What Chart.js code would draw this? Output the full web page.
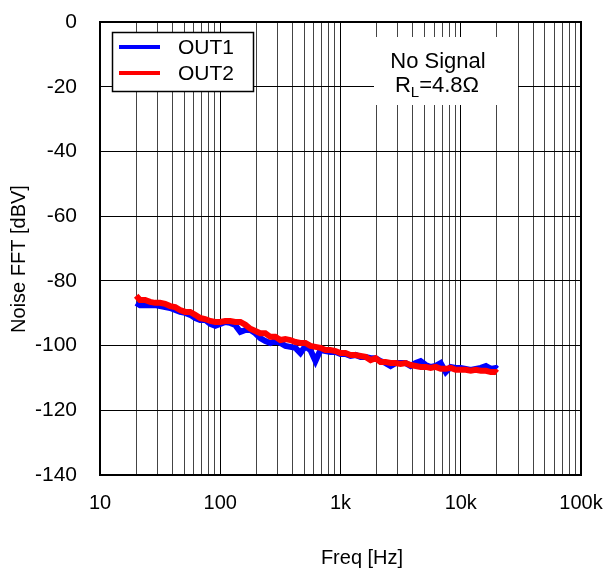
<!DOCTYPE html>
<html>
<head>
<meta charset="utf-8">
<script src="https://cdn.jsdelivr.net/npm/chart.js@4.4.1/dist/chart.umd.min.js"></script>
<style>
	html, body { margin: 0; padding: 0; background: #fff; }
	#wrap { width: 607px; height: 572px; position: relative; }
</style>
</head>
<body>
<div id="wrap"><canvas id="myChart" width="607" height="572"></canvas></div>
<script>
// frequency points (Hz)
const freqs = [20, 21.5, 23.7, 26.1, 28.7, 31.6, 34.8, 38.3, 42.2, 46.4, 51.1, 56.2, 61.9, 68.1, 75, 82.5, 90.9,
	100, 110, 121, 133, 147, 162, 178, 196, 215, 237, 261, 287, 316, 348, 383, 422, 464, 511, 562, 619, 681, 750, 825, 909,
	1000, 1100, 1210, 1330, 1470, 1620, 1780, 1960, 2150, 2370, 2610, 2870, 3160, 3480, 3830, 4220, 4640, 5110, 5620, 6190, 6810, 7500, 8250, 9090,
	10000, 11000, 12100, 13300, 14700, 16200, 17800, 19600, 20000];

const out1 = [-86.8, -87.5, -87.5, -87.5, -87.5, -87.8, -88.1, -88.4, -89.0, -89.6, -89.9, -90.5, -91.5, -92.1, -92.1, -93.3, -93.9,
	-93.3, -92.7, -93.0, -93.6, -95.8, -95.2, -95.2, -96.2, -97.7, -98.6, -99.2, -98.6, -99.2, -100.1, -100.4, -100.7, -102.3, -100.1, -101.4, -104.8, -101.4, -101.7, -102.0, -102.0,
	-102.6, -102.6, -103.2, -102.9, -103.5, -103.5, -103.9, -103.9, -104.8, -105.4, -106.3, -105.4, -105.4, -105.4, -106.3, -105.4, -104.8, -106.0, -106.6, -106.3, -105.4, -108.2, -106.6, -106.9,
	-106.9, -107.2, -107.5, -107.2, -106.9, -106.3, -107.2, -106.9, -107.2];

const out2 = [-84.6, -85.9, -85.9, -86.5, -86.8, -86.8, -87.1, -87.8, -88.1, -89.0, -89.6, -89.6, -90.5, -91.5, -91.8, -92.4, -92.7,
	-92.7, -92.4, -92.4, -92.7, -92.7, -93.6, -94.8, -95.5, -96.2, -96.2, -97.3, -97.3, -98.3, -98.0, -98.3, -98.9, -99.2, -99.2, -100.1, -100.4, -100.7, -101.4, -101.4, -101.7,
	-102.3, -102.3, -102.9, -102.9, -103.2, -103.5, -104.5, -103.9, -105.1, -105.1, -105.4, -105.4, -105.7, -105.4, -106.0, -106.3, -106.6, -106.6, -106.9, -106.6, -107.2, -107.2, -106.9, -107.5,
	-107.5, -107.5, -107.8, -107.5, -107.8, -107.8, -108.2, -108.2, -108.5];

const xTicks = [10, 20, 30, 40, 50, 60, 70, 80, 90, 100, 200, 300, 400, 500, 600, 700, 800, 900,
	1000, 2000, 3000, 4000, 5000, 6000, 7000, 8000, 9000, 10000, 20000, 30000, 40000, 50000, 60000, 70000, 80000, 90000, 100000];
const xLabels = { 10: "10", 100: "100", 1000: "1k", 10000: "10k", 100000: "100k" };

const seriesNames = ["OUT1", "OUT2"];
const seriesColors = ["#0000ff", "#ff0000"];

const FONT = "'Liberation Sans', Arial, sans-serif";

const toPoints = (vals) => vals.map((v, i) => ({ x: freqs[i], y: v }));

// frame, legend box, note box and axis titles
const decorPlugin = {
	id: "decor",
	afterDatasetsDraw: (chart) => {
		const ctx = chart.ctx;
		const area = chart.chartArea;
		ctx.save();

		// legend
		ctx.fillStyle = "#fff";
		ctx.fillRect(112, 32, 142, 60);
		ctx.strokeStyle = "#000";
		ctx.lineWidth = 1.5;
		ctx.strokeRect(112.5, 32.5, 141, 59);
		ctx.font = "21px " + FONT;
		ctx.textBaseline = "middle";
		ctx.textAlign = "left";
		const rows = [48, 74];
		seriesNames.forEach((name, i) => {
			ctx.strokeStyle = seriesColors[i];
			ctx.lineWidth = 4;
			ctx.beginPath();
			ctx.moveTo(119, rows[i] - 1);
			ctx.lineTo(160, rows[i] - 1);
			ctx.stroke();
			ctx.fillStyle = "#000";
			ctx.fillText(name, 178, rows[i]);
		});

		// condition note
		ctx.fillStyle = "#fff";
		ctx.fillRect(374, 37, 144, 68);
		ctx.fillStyle = "#000";
		ctx.font = "22px " + FONT;
		ctx.textAlign = "center";
		ctx.fillText("No Signal", 438, 62);
		ctx.textAlign = "left";
		const rW = ctx.measureText("R").width;
		ctx.font = "15px " + FONT;
		const lW = ctx.measureText("L").width;
		ctx.font = "22px " + FONT;
		const restW = ctx.measureText("=4.8Ω").width;
		let x0 = 437 - (rW + lW + restW) / 2;
		ctx.fillText("R", x0, 86);
		ctx.font = "15px " + FONT;
		ctx.fillText("L", x0 + rW, 93);
		ctx.font = "22px " + FONT;
		ctx.fillText("=4.8Ω", x0 + rW + lW, 86);

		// frame
		ctx.strokeStyle = "#000";
		ctx.lineWidth = 2;
		ctx.strokeRect(area.left, area.top, area.right - area.left, area.bottom - area.top);

		// axis titles
		ctx.font = "20px " + FONT;
		ctx.textAlign = "center";
		ctx.textBaseline = "middle";
		ctx.fillText("Freq [Hz]", 362, 558);
		ctx.translate(19, 259);
		ctx.rotate(-Math.PI / 2);
		ctx.fillText("Noise FFT [dBV]", 0, 0);
		ctx.restore();
	}
};

const ctx = document.getElementById("myChart").getContext("2d");

const myChart = new Chart(ctx, {
	type: "line",
	data: {
		datasets: [
			{
				label: seriesNames[0],
				data: toPoints(out1),
				borderColor: seriesColors[0],
				borderWidth: 6,
				pointRadius: 0,
				tension: 0,
				order: 1
			},
			{
				label: seriesNames[1],
				data: toPoints(out2),
				borderColor: seriesColors[1],
				borderWidth: 6,
				pointRadius: 0,
				tension: 0,
				order: 0
			}
		]
	},
	plugins: [decorPlugin],
	options: {
		responsive: false,
		animation: false,
		layout: { padding: { left: 0, right: 26, top: 22, bottom: 0 } },
		plugins: {
			legend: { display: false },
			tooltip: { enabled: false }
		},
		scales: {
			x: {
				type: "logarithmic",
				min: 10,
				max: 100000,
				afterBuildTicks: (scale) => {
					scale.ticks = xTicks.map((v) => ({ value: v }));
				},
				afterFit: (scale) => {
					scale.height = 97;
					scale.paddingLeft = 0;
					scale.paddingRight = 0;
				},
				ticks: {
					autoSkip: false,
					maxRotation: 0,
					padding: 16,
					color: "#000",
					font: { family: FONT, size: 20 },
					callback: (v) => xLabels[v] || ""
				},
				grid: {
					drawTicks: false,
					color: (c) => (xLabels[c.tick && c.tick.value] ? "#000" : "#444"),
					lineWidth: 1
				},
				border: { color: "#000", width: 2 }
			},
			y: {
				min: -140,
				max: 0,
				afterFit: (scale) => {
					scale.width = 100;
					scale.paddingTop = 0;
					scale.paddingBottom = 0;
				},
				ticks: {
					stepSize: 20,
					padding: 23,
					color: "#000",
					font: { family: FONT, size: 21 }
				},
				grid: {
					drawTicks: false,
					color: "#000",
					lineWidth: 1
				},
				border: { color: "#000", width: 2 }
			}
		}
	}
});
</script>
</body>
</html>
